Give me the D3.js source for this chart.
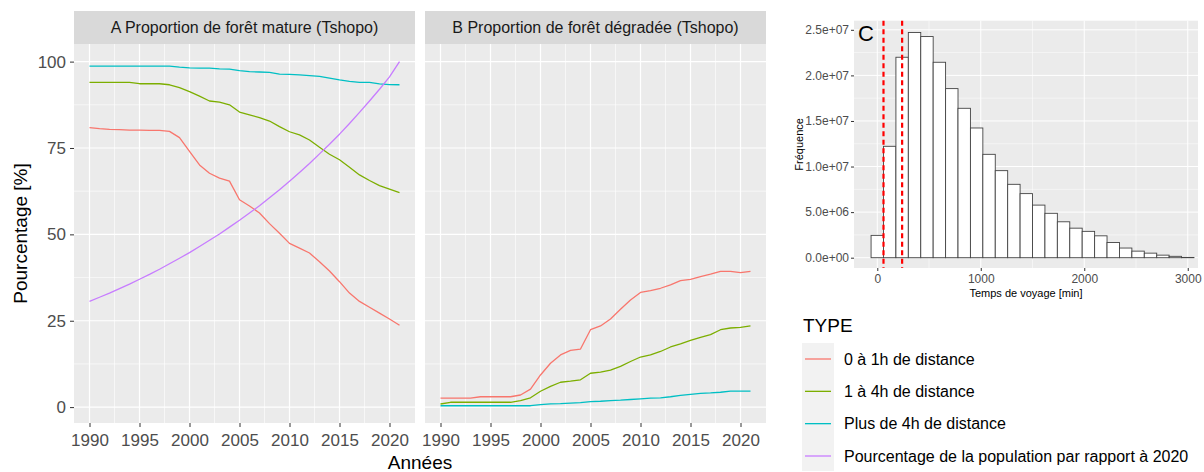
<!DOCTYPE html>
<html>
<head>
<meta charset="utf-8">
<script src="https://cdn.jsdelivr.net/npm/d3@7"></script>
<style>
  body { margin: 0; background: #fff; }
  svg { display: block; }
  text { font-family: "Liberation Sans", Arial, sans-serif; }
</style>
</head>
<body>
<svg id="chart" width="1204" height="472"></svg>
<script>
// ---- Data -------------------------------------------------------------
const years = [1990, 1991, 1992, 1993, 1994, 1995, 1996, 1997, 1998, 1999,
               2000, 2001, 2002, 2003, 2004, 2005, 2006, 2007, 2008, 2009,
               2010, 2011, 2012, 2013, 2014, 2015, 2016, 2017, 2018, 2019,
               2020, 2021];

// A: share of mature forest (%)
const matureNear = [80.9, 80.6, 80.4, 80.3, 80.2, 80.2, 80.1, 80.1, 79.8, 78.0,
                    74.0, 70.1, 67.7, 66.3, 65.4, 60.0, 58.2, 56.2, 53.1, 50.3,
                    47.4, 46.0, 44.6, 42.1, 39.4, 36.3, 33.0, 30.6, 28.9, 27.2,
                    25.5, 23.7];
const matureMid  = [94.0, 94.0, 94.0, 94.0, 94.0, 93.6, 93.6, 93.6, 93.3, 92.5,
                    91.3, 90.0, 88.6, 88.3, 87.5, 85.4, 84.6, 83.8, 82.8, 81.2,
                    79.7, 78.8, 77.3, 75.2, 73.2, 71.6, 69.4, 67.2, 65.6, 64.1,
                    63.1, 62.1];
const matureFar  = [98.7, 98.7, 98.7, 98.7, 98.7, 98.7, 98.7, 98.7, 98.7, 98.4,
                    98.2, 98.1, 98.1, 97.9, 97.8, 97.4, 97.1, 97.0, 96.9, 96.4,
                    96.3, 96.15, 95.95, 95.7, 95.2, 94.7, 94.3, 94.0, 94.0, 93.55,
                    93.35, 93.3];
const population = [30.6, 31.8, 33.0, 34.3, 35.6, 37.0, 38.4, 39.9, 41.5, 43.1,
                    44.7, 46.5, 48.3, 50.1, 52.1, 54.1, 56.2, 58.3, 60.6, 62.9,
                    65.4, 67.9, 70.5, 73.3, 76.1, 79.0, 82.1, 85.3, 88.6, 92.0,
                    95.6, 100.0];

// B: share of degraded forest (%)
const degradedNear = [2.6, 2.6, 2.6, 2.6, 3.0, 3.0, 3.0, 3.0, 3.5, 5.2,
                      9.3, 12.7, 15.1, 16.4, 16.8, 22.4, 23.5, 25.5, 28.3, 31.0,
                      33.2, 33.7, 34.4, 35.4, 36.6, 37.0, 37.8, 38.5, 39.3, 39.3,
                      38.9, 39.3];
const degradedMid  = [0.9, 1.4, 1.4, 1.4, 1.4, 1.4, 1.4, 1.4, 1.9, 2.7,
                      4.6, 6.0, 7.2, 7.5, 7.9, 9.8, 10.1, 10.7, 11.8, 13.2,
                      14.5, 15.1, 16.1, 17.4, 18.3, 19.3, 20.2, 21.0, 22.4, 22.9,
                      23.1, 23.5];
const degradedFar  = [0.4, 0.4, 0.4, 0.4, 0.4, 0.4, 0.4, 0.4, 0.4, 0.4,
                      0.7, 0.95, 1.0, 1.15, 1.3, 1.6, 1.7, 1.9, 2.0, 2.2,
                      2.4, 2.6, 2.7, 3.0, 3.4, 3.7, 4.0, 4.1, 4.3, 4.6,
                      4.6, 4.6];

// C: travel-time histogram (bin centres in minutes, counts)
const binCenters = [0, 120, 240, 360, 480, 600, 720, 840, 960, 1080,
                    1200, 1320, 1440, 1560, 1680, 1800, 1920, 2040, 2160, 2280,
                    2400, 2520, 2640, 2760, 2880, 3000];
const binCounts = [2.45e6, 1.222e7, 2.199e7, 2.47e7, 2.426e7, 2.144e7, 1.855e7, 1.639e7, 1.423e7, 1.134e7,
                   9.55e6, 8.05e6, 7.03e6, 5.77e6, 4.87e6, 3.94e6, 3.24e6, 2.89e6, 2.4e6, 1.67e6,
                   1.06e6, 7.2e5, 5.0e5, 2.8e5, 1.5e5, 3e4];
const binWidth = 120;
const thresholds = [60, 240]; // 1h and 4h

// Labels
const typeLabels = ["0 à 1h de distance", "1 à 4h de distance", "Plus de 4h de distance",
                    "Pourcentage de la population par rapport à 2020"];
const typeColors = ["#F8766D", "#7CAE00", "#00BFC4", "#C77CFF"];
const stripTitles = ["A Proportion de forêt mature (Tshopo)", "B Proportion de forêt dégradée (Tshopo)"];
const yearTicks = [1990, 1995, 2000, 2005, 2010, 2015, 2020];
const yearMinor = [1992.5, 1997.5, 2002.5, 2007.5, 2012.5, 2017.5];
const pctTicks = [0, 25, 50, 75, 100];
const pctMinor = [12.5, 37.5, 62.5, 87.5];
const histXTicks = [0, 1000, 2000, 3000];
const histXMinor = [500, 1500, 2500];
const histYTicks = [0, 5e6, 1e7, 1.5e7, 2e7, 2.5e7];
const histYLabels = ["0.0e+00", "5.0e+06", "1.0e+07", "1.5e+07", "2.0e+07", "2.5e+07"];
const histYMinor = [2.5e6, 7.5e6, 1.25e7, 1.75e7, 2.25e7];

// ---- Drawing ------------------------------------------------------------
const svg = d3.select("#chart");
const PANEL_BG = "#ebebeb", STRIP_BG = "#d9d9d9", TICK_TXT = "#4d4d4d", TICK_LINE = "#333333";

const panelTop = 44, panelBottom = 423, stripTop = 11;
const y = d3.scaleLinear().domain([-4.6, 105.1]).range([panelBottom, panelTop]);

const facets = [
  { title: stripTitles[0], x0: 74, x1: 415,
    series: [matureNear, matureMid, matureFar, population], showY: true },
  { title: stripTitles[1], x0: 425, x1: 766,
    series: [degradedNear, degradedMid, degradedFar], showY: false }
];

facets.forEach(f => {
  const x = d3.scaleLinear().domain([1988.45, 2022.55]).range([f.x0, f.x1]);
  const g = svg.append("g");

  // strip
  g.append("rect").attr("x", f.x0).attr("y", stripTop)
    .attr("width", f.x1 - f.x0).attr("height", panelTop - stripTop).attr("fill", STRIP_BG);
  g.append("text").attr("x", (f.x0 + f.x1) / 2).attr("y", (stripTop + panelTop) / 2)
    .attr("dy", "0.36em").attr("text-anchor", "middle")
    .attr("font-size", 16).attr("fill", "#1a1a1a").text(f.title);

  // panel background + grid
  g.append("rect").attr("x", f.x0).attr("y", panelTop)
    .attr("width", f.x1 - f.x0).attr("height", panelBottom - panelTop).attr("fill", PANEL_BG);
  g.selectAll(".vmin").data(yearMinor).join("line")
    .attr("x1", d => x(d)).attr("x2", d => x(d)).attr("y1", panelTop).attr("y2", panelBottom)
    .attr("stroke", "#fff").attr("stroke-width", 0.6);
  g.selectAll(".hmin").data(pctMinor).join("line")
    .attr("x1", f.x0).attr("x2", f.x1).attr("y1", d => y(d)).attr("y2", d => y(d))
    .attr("stroke", "#fff").attr("stroke-width", 0.6);
  g.selectAll(".vmaj").data(yearTicks).join("line")
    .attr("x1", d => x(d)).attr("x2", d => x(d)).attr("y1", panelTop).attr("y2", panelBottom)
    .attr("stroke", "#fff").attr("stroke-width", 1.2);
  g.selectAll(".hmaj").data(pctTicks).join("line")
    .attr("x1", f.x0).attr("x2", f.x1).attr("y1", d => y(d)).attr("y2", d => y(d))
    .attr("stroke", "#fff").attr("stroke-width", 1.2);

  // series
  const line = d3.line().x((d, i) => x(years[i])).y(d => y(d));
  f.series.forEach((s, k) => {
    g.append("path").datum(s).attr("d", line)
      .attr("fill", "none").attr("stroke", typeColors[k]).attr("stroke-width", 1.3)
      .attr("stroke-linejoin", "round");
  });

  // x axis
  const xAxis = d3.axisBottom(x).tickValues(yearTicks).tickSize(4).tickPadding(4).tickFormat(d3.format("d"));
  const gx = g.append("g").attr("transform", `translate(0,${panelBottom})`).call(xAxis);
  gx.select(".domain").remove();
  gx.selectAll(".tick line").attr("stroke", TICK_LINE).attr("stroke-width", 1);
  gx.selectAll(".tick text").attr("font-size", 17).attr("fill", TICK_TXT)
    .attr("font-family", "Liberation Sans, Arial, sans-serif").attr("dy", "0.9em");

  if (f.showY) {
    const yAxis = d3.axisLeft(y).tickValues(pctTicks).tickSize(4).tickPadding(4);
    const gy = g.append("g").attr("transform", `translate(${f.x0},0)`).call(yAxis);
    gy.select(".domain").remove();
    gy.selectAll(".tick line").attr("stroke", TICK_LINE).attr("stroke-width", 1);
    gy.selectAll(".tick text").attr("font-size", 17).attr("fill", TICK_TXT)
      .attr("font-family", "Liberation Sans, Arial, sans-serif");
  }
});

// axis titles for A/B
svg.append("text").attr("transform", `translate(27,${(panelTop + panelBottom) / 2}) rotate(-90)`)
  .attr("text-anchor", "middle").attr("font-size", 19).attr("fill", "#000").text("Pourcentage [%]");
svg.append("text").attr("x", 420).attr("y", 469)
  .attr("text-anchor", "middle").attr("font-size", 19).attr("fill", "#000").text("Années");

// ---- Histogram C --------------------------------------------------------
const cx0 = 854, cx1 = 1198, cy0 = 20.7, cy1 = 268;
const xC = d3.scaleLinear().domain([-225, 3099]).range([cx0, cx1]);
const yC = d3.scaleLinear().domain([-1.13e6, 2.6e7]).range([cy1, cy0]);
const gc = svg.append("g");
gc.append("rect").attr("x", cx0).attr("y", cy0).attr("width", cx1 - cx0).attr("height", cy1 - cy0)
  .attr("fill", PANEL_BG);
gc.selectAll(".cvmin").data(histXMinor).join("line")
  .attr("x1", d => xC(d)).attr("x2", d => xC(d)).attr("y1", cy0).attr("y2", cy1)
  .attr("stroke", "#fff").attr("stroke-width", 0.5);
gc.selectAll(".chmin").data(histYMinor).join("line")
  .attr("x1", cx0).attr("x2", cx1).attr("y1", d => yC(d)).attr("y2", d => yC(d))
  .attr("stroke", "#fff").attr("stroke-width", 0.5);
gc.selectAll(".cvmaj").data(histXTicks).join("line")
  .attr("x1", d => xC(d)).attr("x2", d => xC(d)).attr("y1", cy0).attr("y2", cy1)
  .attr("stroke", "#fff").attr("stroke-width", 1);
gc.selectAll(".chmaj").data(histYTicks).join("line")
  .attr("x1", cx0).attr("x2", cx1).attr("y1", d => yC(d)).attr("y2", d => yC(d))
  .attr("stroke", "#fff").attr("stroke-width", 1);

gc.selectAll(".bar").data(binCounts).join("rect")
  .attr("x", (d, i) => xC(binCenters[i] - binWidth / 2))
  .attr("width", (d, i) => xC(binCenters[i] + binWidth / 2) - xC(binCenters[i] - binWidth / 2))
  .attr("y", d => yC(d))
  .attr("height", d => yC(0) - yC(d))
  .attr("fill", "#fff").attr("stroke", "#444").attr("stroke-width", 0.9);

gc.selectAll(".thr").data(thresholds).join("line")
  .attr("x1", d => xC(d)).attr("x2", d => xC(d)).attr("y1", cy0).attr("y2", cy1)
  .attr("stroke", "#ff0000").attr("stroke-width", 2.2).attr("stroke-dasharray", "5,3.5");

const xAxisC = d3.axisBottom(xC).tickValues(histXTicks).tickSize(3).tickPadding(3).tickFormat(d3.format("d"));
const gxc = gc.append("g").attr("transform", `translate(0,${cy1})`).call(xAxisC);
gxc.select(".domain").remove();
gxc.selectAll(".tick line").attr("stroke", TICK_LINE);
gxc.selectAll(".tick text").attr("font-size", 12).attr("fill", TICK_TXT)
  .attr("font-family", "Liberation Sans, Arial, sans-serif");

const yAxisC = d3.axisLeft(yC).tickValues(histYTicks).tickSize(3).tickPadding(2)
  .tickFormat((d, i) => histYLabels[i]);
const gyc = gc.append("g").attr("transform", `translate(${cx0},0)`).call(yAxisC);
gyc.select(".domain").remove();
gyc.selectAll(".tick line").attr("stroke", TICK_LINE);
gyc.selectAll(".tick text").attr("font-size", 12).attr("fill", TICK_TXT)
  .attr("font-family", "Liberation Sans, Arial, sans-serif");

gc.append("text").attr("x", (cx0 + cx1) / 2).attr("y", 297)
  .attr("text-anchor", "middle").attr("font-size", 11).attr("fill", "#000").text("Temps de voyage [min]");
gc.append("text").attr("transform", `translate(803,${(cy0 + cy1) / 2}) rotate(-90)`)
  .attr("text-anchor", "middle").attr("font-size", 11).attr("fill", "#000").text("Fréquence");
gc.append("text").attr("x", 866).attr("y", 41).attr("text-anchor", "middle")
  .attr("font-family", "Open Sans, sans-serif").attr("font-size", 22).attr("fill", "#000").text("C");

// ---- Legend ---------------------------------------------------------------
const lg = svg.append("g");
lg.append("text").attr("x", 803).attr("y", 332).attr("font-size", 19).attr("fill", "#000").text("TYPE");
const keyY = d3.scalePoint().domain(typeLabels).range([359, 456]);
lg.append("rect").attr("x", 802).attr("y", 343).attr("width", 32).attr("height", 128).attr("fill", "#f2f2f2");
typeLabels.forEach((lab, k) => {
  lg.append("line").attr("x1", 805).attr("x2", 831).attr("y1", keyY(lab)).attr("y2", keyY(lab))
    .attr("stroke", typeColors[k]).attr("stroke-width", 1.3);
  lg.append("text").attr("x", 844).attr("y", keyY(lab)).attr("dy", "0.35em")
    .attr("font-size", 16).attr("fill", "#000").text(lab);
});
</script>
</body>
</html>
